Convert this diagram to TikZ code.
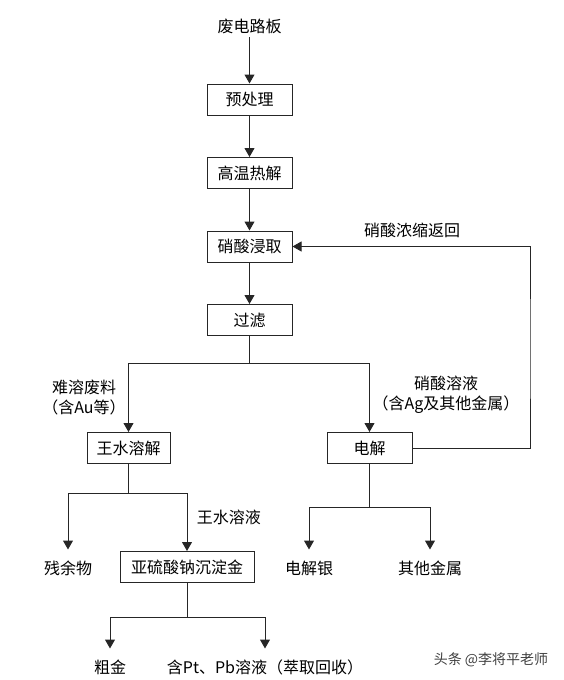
\documentclass[tikz,border=0pt]{standalone}
\usepackage{fontspec}
\setmainfont{Noto Sans CJK SC}
\usepackage{tikz}
\usetikzlibrary{positioning, arrows.meta}
\tikzset{
	->, % Todos los arcos llevan flecha
	>={Triangle[length=9pt, width=10pt]}, % Punta triangular rellena
	node distance=73.5pt, % Distancia entre etapas del proceso
	every node/.style={font=\fontsize{16}{20}\selectfont}, % Texto de los nodos
	etapa/.style={draw, minimum width=85pt, minimum height=31pt, inner sep=0pt}, % Cajas del proceso
	salida/.style={minimum height=37pt, inner sep=0pt}, % Productos sin caja
	hv/.style={to path={-| (\tikztotarget)}} % Codo horizontal y luego vertical
}

\begin{document}
\begin{tikzpicture}[x=1pt, y=-1pt, line width=1pt, draw=black!85]
	\useasboundingbox (0,0) rectangle (564,680);
	\node (src) at (249.5,26) {废电路板};
	\node[etapa, below of=src] (pre) {预处理};
	\node[etapa, below of=pre] (pyro) {高温热解};
	\node[etapa, below of=pyro] (leach) {硝酸浸取};
	\node[etapa, below of=leach] (filt) {过滤};
	\node[etapa, node distance=128pt, below of=filt, xshift=-121pt, minimum width=83pt] (aqua) {王水溶解};
	\node[etapa, node distance=128pt, below of=filt, xshift=120pt] (elec) {电解};
	\node[etapa, node distance=119pt, below of=aqua, xshift=58.5pt, minimum width=134pt] (sulf) {亚硫酸钠沉淀金};
	\node[salida, node distance=120.5pt, below of=aqua, xshift=-60.5pt] (res) {残余物};
	\node[salida, node distance=120.5pt, below of=elec, xshift=-60.5pt] (ag) {电解银};
	\node[salida, node distance=120.5pt, below of=elec, xshift=60.5pt] (met) {其他金属};
	\node[salida, node distance=100.5pt, below of=sulf, xshift=-77pt] (au) {粗金};
	\node[salida, node distance=100.5pt, below of=sulf, xshift=78pt] (ptpb) {含Pt、Pb溶液（萃取回收）};
	\node[align=center] (lres) at (84,397) {难溶废料\\（含Au等）};
	\node[align=center] (lsol) at (446,395) {硝酸溶液\\（含Ag及其他金属）};
	\node[anchor=west] (laq) at (193,517) {王水溶液};
	\node (lret) at (412,230) {硝酸浓缩返回};
	\node[font=\fontsize{14}{16}\selectfont, text=black!75] (wm) at (491,660) {头条 @李将平老师};
	\coordinate (s1) at (249.5,363);
	\coordinate (s2) at (128.5,493);
	\coordinate (s3) at (369.5,507);
	\coordinate (s4) at (187,617);
	\coordinate (ret) at (530,350);
	\path	(src) edge (pre)
			(pre) edge (pyro)
			(pyro) edge (leach)
			(leach) edge (filt)
			(filt) edge[-] (s1)
			(s1) edge[hv] (aqua.north)
			(s1) edge[hv] (elec.north)
			(elec.east) edge[to path={-| (ret) |- (\tikztotarget)}] (leach.east)
			
			(aqua) edge[-] (s2)
			(s2) edge[hv] (res.north)
			(s2) edge[hv] (sulf.north)
			(elec) edge[-] (s3)
			(s3) edge[hv] (ag.north)
			(s3) edge[hv] (met.north)
			(sulf) edge[-] (s4)
			(s4) edge[hv] (au.north)
			(s4) edge[hv] (ptpb.north);
\end{tikzpicture}
\end{document}
